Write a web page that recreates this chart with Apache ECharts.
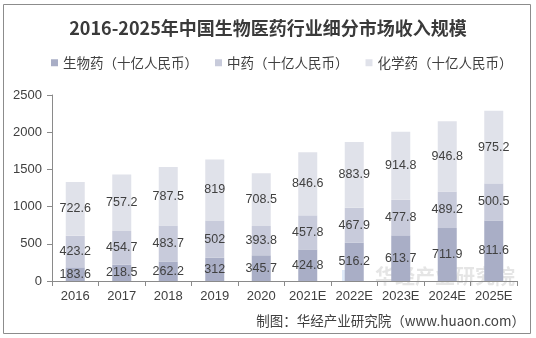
<!DOCTYPE html>
<html><head><meta charset="utf-8">
<script src="https://cdn.jsdelivr.net/npm/echarts@6/dist/echarts.min.js"></script>
<style>html,body{margin:0;padding:0;background:#fff}#c{width:536px;height:338px}</style>
</head><body><div id="c"></div>
<script>
const categories = ['2016','2017','2018','2019','2020','2021E','2022E','2023E','2024E','2025E'];
const bioDrugs = [183.6,218.5,262.2,312,345.7,424.8,516.2,613.7,711.9,811.6];
const tcm = [423.2,454.7,483.7,502,393.8,457.8,467.9,477.8,489.2,500.5];
const chemDrugs = [722.6,757.2,787.5,819,708.5,846.6,883.9,914.8,946.8,975.2];
const seriesNames = ['生物药（十亿人民币）','中药（十亿人民币）','化学药（十亿人民币）'];
const yTicks = [0,500,1000,1500,2000,2500];

const chart = echarts.init(document.getElementById('c'));
const numFont = '"Liberation Sans", Arial, sans-serif';
const cjkFont = '"Noto Sans CJK SC", sans-serif';
const colors = ['#a9aec6','#c8cbdb','#e0e2ea'];
const lbl = {show:true, position:'inside', color:'#404040', fontSize:12.5, fontFamily:numFont};
function mk(name, data, i){
  return {name, type:'bar', stack:'t', data, barWidth:19, itemStyle:{color:colors[i]}, label:lbl};
}
chart.setOption({
  animation:false,
  title:{text:'2016-2025年中国生物医药行业细分市场收入规模', left:'center', top:14,
    textStyle:{fontFamily:cjkFont, fontWeight:'bold', fontSize:18, color:'#3a3a3a'}},
  legend:{data:seriesNames, left:46, top:51, itemWidth:7, itemHeight:7, itemGap:17, icon:'rect',
    textStyle:{fontFamily:cjkFont, fontSize:13.5, color:'#404040'}},
  grid:{left:52, right:19, top:95, bottom:57},
  xAxis:{type:'category', data:categories,
    axisLine:{lineStyle:{color:'#8a8a8a'}}, axisTick:{show:true, length:5, lineStyle:{color:'#8a8a8a'}},
    axisLabel:{interval:0, color:'#404040', fontSize:13, fontFamily:numFont, margin:9}},
  yAxis:{type:'value', min:yTicks[0], max:yTicks[yTicks.length-1], interval:500,
    axisLine:{show:true, lineStyle:{color:'#8a8a8a'}}, axisTick:{show:true, length:5, lineStyle:{color:'#8a8a8a'}},
    splitLine:{show:false},
    axisLabel:{color:'#404040', fontSize:13, fontFamily:numFont, margin:10, formatter:v => String(v)}},
  graphic:[
    {type:'rect', shape:{x:3.5, y:4.5, width:527, height:329}, style:{fill:'none', stroke:'#8c8c8c', lineWidth:1}, silent:true, z:-1},
    {type:'rect', shape:{x:342, y:270, width:10, height:12}, style:{fill:'rgba(150,185,235,0.3)'}, silent:true, z:-1},
    {type:'rect', shape:{x:352, y:270, width:10, height:12}, style:{fill:'rgba(240,220,150,0.3)'}, silent:true, z:-1},
    {type:'text', left:375, top:266, style:{text:'华经产业研究院', fontFamily:cjkFont, fontSize:20, fontWeight:'bold', fill:'rgba(190,190,190,0.4)'}, silent:true, z:-1},
    {type:'text', right:11, top:314, style:{text:'制图：华经产业研究院（www.huaon.com）', fontFamily:cjkFont, fontSize:13.5, fill:'#404040'}}
  ],
  series:[mk(seriesNames[0], bioDrugs, 0), mk(seriesNames[1], tcm, 1), mk(seriesNames[2], chemDrugs, 2)]
});
</script></body></html>
